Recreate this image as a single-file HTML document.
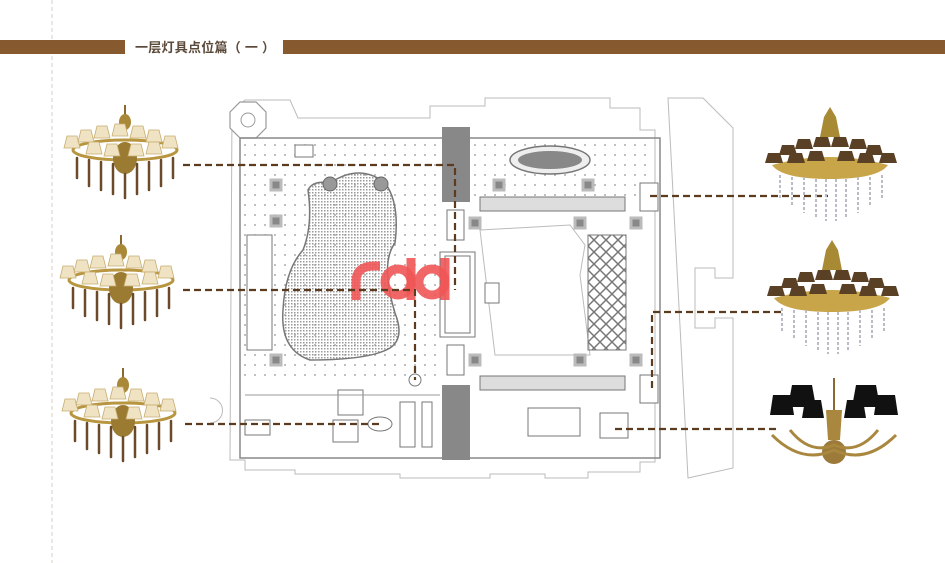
<!DOCTYPE html>
<html><head><meta charset="utf-8"><style>
html,body{margin:0;padding:0;background:#fff;}
body{width:945px;height:563px;overflow:hidden;position:relative;font-family:"Liberation Sans","Noto Sans CJK SC",sans-serif;}
</style></head><body>
<svg width="945" height="563" viewBox="0 0 945 563" xmlns="http://www.w3.org/2000/svg" style="position:absolute;left:0;top:0">
<defs>
<pattern id="dots" width="10" height="10" patternUnits="userSpaceOnUse"><circle cx="5" cy="5" r="0.9" fill="#777"/></pattern>
<pattern id="fine" width="3" height="3" patternUnits="userSpaceOnUse"><rect width="1.5" height="1.5" fill="#999"/></pattern>
<pattern id="lattice" width="12" height="12" patternUnits="userSpaceOnUse"><path d="M0 6L6 0L12 6L6 12Z" fill="none" stroke="#777" stroke-width="1.5"/></pattern>
<g id="chL">
<line x1="0" y1="-45" x2="0" y2="-25" stroke="#8a6a30" stroke-width="2"/>
<ellipse cx="0" cy="-28" rx="6" ry="8" fill="#a98838"/>
<ellipse cx="0" cy="0" rx="52" ry="10" fill="none" stroke="#b8953f" stroke-width="3"/>
<ellipse cx="0" cy="8" rx="12" ry="16" fill="#9b7a32"/>
<g fill="#efe3c4" stroke="#c7ad70" stroke-width="0.8">
<path d="M-58 -14h10l3 12h-16z"/><path d="M-44 -20h10l3 12h-16z"/><path d="M-28 -24h10l3 12h-16z"/><path d="M-10 -26h10l3 12h-16z"/><path d="M8 -24h10l3 12h-16z"/><path d="M24 -20h10l3 12h-16z"/><path d="M40 -14h10l3 12h-16z"/>
<path d="M-36 -8h10l3 12h-16z"/><path d="M-18 -6h10l3 12h-16z"/><path d="M6 -6h10l3 12h-16z"/><path d="M24 -8h10l3 12h-16z"/>
</g>
<g stroke="#6b4a2a" stroke-width="2.5" stroke-linecap="round">
<line x1="-48" y1="8" x2="-48" y2="28"/><line x1="-36" y1="10" x2="-36" y2="36"/><line x1="-24" y1="12" x2="-24" y2="40"/><line x1="-12" y1="14" x2="-12" y2="44"/><line x1="0" y1="24" x2="0" y2="48"/><line x1="12" y1="14" x2="12" y2="44"/><line x1="24" y1="12" x2="24" y2="40"/><line x1="36" y1="10" x2="36" y2="36"/><line x1="48" y1="8" x2="48" y2="28"/>
</g>
</g>
<g id="chR">
<path d="M-6 -48l6 -10l6 10l4 20h-20z" fill="#a88a35"/>
<path d="M-58 0q58 -16 116 0q-10 14 -58 14q-48 0 -58 -14z" fill="#c9a54a"/>
<g fill="#5a4024">
<path d="M-62 -12h12l3 10h-18z"/><path d="M-48 -20h12l3 10h-18z"/><path d="M-32 -26h12l3 10h-18z"/><path d="M-14 -28h12l3 10h-18z"/><path d="M4 -28h12l3 10h-18z"/><path d="M22 -26h12l3 10h-18z"/><path d="M38 -20h12l3 10h-18z"/><path d="M52 -12h12l3 10h-18z"/>
<path d="M-40 -12h12l3 10h-18z"/><path d="M-20 -14h12l3 10h-18z"/><path d="M10 -14h12l3 10h-18z"/><path d="M30 -12h12l3 10h-18z"/>
</g>
<g stroke="#b9bcc4" stroke-width="2" stroke-dasharray="3 2">
<line x1="-50" y1="10" x2="-50" y2="34"/><line x1="-38" y1="12" x2="-38" y2="42"/><line x1="-26" y1="12" x2="-26" y2="48"/><line x1="-14" y1="14" x2="-14" y2="52"/><line x1="-4" y1="14" x2="-4" y2="56"/><line x1="6" y1="14" x2="6" y2="56"/><line x1="16" y1="14" x2="16" y2="52"/><line x1="28" y1="12" x2="28" y2="48"/><line x1="40" y1="12" x2="40" y2="42"/><line x1="52" y1="10" x2="52" y2="34"/>
</g>
</g>
</defs>

<line x1="52" y1="0" x2="52" y2="563" stroke="#d9cfc0" stroke-width="1" stroke-dasharray="4 3"/>

<rect x="0" y="40" width="125" height="14" fill="#865a2e"/>
<rect x="283" y="40" width="662" height="14" fill="#865a2e"/>
<text x="135" y="52" font-size="13" font-weight="bold" fill="#5b4a3a" font-family="Liberation Sans,Noto Sans CJK SC,sans-serif" textLength="140" lengthAdjust="spacing">一层灯具点位篇（ 一 ）</text>

<g fill="none" stroke="#bbb" stroke-width="1">
<path d="M232 112L245 100H290L298 118H430V106H485V98H610V108H640V130H655V462H640V472H588V478H545V474H490V478H400V474H295V470H245V460H230Z"/>
<path d="M668 98h35l30 30v150h-18v-10h-20v60h20v-10h18v150l-45 10z"/>
<path d="M210 398a12 12 0 1 1 0 25"/>
</g>
<polygon points="230,112 240,102 256,102 266,112 266,128 256,138 240,138 230,128" fill="#fff" stroke="#999" stroke-width="1.2"/>
<circle cx="248" cy="120" r="7" fill="none" stroke="#999"/>
<rect x="240" y="138" width="420" height="320" fill="none" stroke="#888" stroke-width="1.5"/>
<rect x="240" y="138" width="200" height="240" fill="url(#dots)" opacity="0.8"/>
<rect x="470" y="138" width="180" height="60" fill="url(#dots)" opacity="0.8"/>
<path d="M330 183q30 -20 55 0q15 20 10 60q-15 20 0 70q10 25 -5 35q-20 12 -80 12q-30 -10 -27 -50q2 -40 20 -60q10 -25 5 -60q5 -10 22 -7z" fill="url(#fine)" stroke="#777" stroke-width="1.5"/>
<circle cx="330" cy="184" r="7" fill="#999" stroke="#666"/>
<circle cx="381" cy="184" r="7" fill="#999" stroke="#666"/>
<rect x="247" y="235" width="25" height="115" fill="#fff" stroke="#777"/>
<rect x="442" y="127" width="28" height="75" fill="#888"/>
<rect x="442" y="385" width="28" height="75" fill="#888"/>
<ellipse cx="550" cy="160" rx="40" ry="14" fill="#eee" stroke="#777" stroke-width="1.5"/>
<ellipse cx="550" cy="160" rx="32" ry="9" fill="#888"/>
<g fill="#ddd" stroke="#777">
<rect x="480" y="197" width="145" height="14"/>
<rect x="480" y="376" width="145" height="14"/>
</g>
<path d="M480 230l90 -5l15 20l-5 30l10 80h-95z" fill="#fff" stroke="#bbb"/>
<rect x="440" y="252" width="35" height="85" fill="#fff" stroke="#777"/>
<rect x="445" y="256" width="25" height="77" fill="#fff" stroke="#777"/>
<rect x="588" y="235" width="38" height="115" fill="url(#lattice)" stroke="#777"/>
<rect x="485" y="283" width="14" height="20" fill="#fff" stroke="#777"/>
<g fill="#888" stroke="#bbb" stroke-width="3">
<rect x="271" y="180" width="10" height="10"/><rect x="271" y="216" width="10" height="10"/><rect x="271" y="355" width="10" height="10"/>
<rect x="494" y="180" width="10" height="10"/><rect x="583" y="180" width="10" height="10"/><rect x="631" y="218" width="10" height="10"/>
<rect x="470" y="218" width="10" height="10"/><rect x="575" y="218" width="10" height="10"/><rect x="631" y="355" width="10" height="10"/>
<rect x="470" y="355" width="10" height="10"/><rect x="575" y="355" width="10" height="10"/>
</g>
<g fill="#fff" stroke="#777">
<rect x="447" y="210" width="17" height="30"/><rect x="447" y="345" width="17" height="30"/>
<rect x="640" y="183" width="18" height="28"/><rect x="640" y="375" width="18" height="28"/>
<rect x="338" y="390" width="25" height="25"/><rect x="333" y="420" width="25" height="22"/>
<rect x="400" y="402" width="15" height="45"/><rect x="422" y="402" width="10" height="45"/>
<rect x="528" y="408" width="52" height="28"/><rect x="600" y="413" width="28" height="25"/>
<rect x="245" y="420" width="25" height="15"/>
<rect x="295" y="145" width="18" height="12"/>
</g>
<ellipse cx="380" cy="424" rx="12" ry="7" fill="#fff" stroke="#777"/>
<circle cx="415" cy="380" r="6" fill="#fff" stroke="#777"/>
<line x1="245" y1="395" x2="440" y2="395" stroke="#999"/>

<g fill="none" stroke="#f05555" stroke-opacity="0.9" stroke-width="9">
<path d="M356 300V282q0 -16 18 -16h6"/>
<circle cx="398" cy="282" r="13"/>
<line x1="411" y1="258" x2="411" y2="300"/>
<circle cx="432" cy="282" r="13"/>
<line x1="445" y1="258" x2="445" y2="300"/>
</g>

<g fill="none" stroke="#5c3b1e" stroke-width="2.2" stroke-dasharray="7 4">
<path d="M183 165H455V290"/>
<path d="M183 290H415V380"/>
<path d="M185 424H380"/>
<path d="M650 196H828"/>
<path d="M652 388V312H782"/>
<path d="M615 429H778"/>
</g>

<use href="#chL" x="125" y="150"/>
<use href="#chL" x="121" y="280"/>
<use href="#chL" x="123" y="413"/>
<use href="#chR" x="830" y="165"/>
<use href="#chR" x="832" y="298"/>
<g>
<line x1="834" y1="378" x2="834" y2="410" stroke="#8a6a30" stroke-width="2"/>
<path d="M826 410h16l-2 30h-12z" fill="#a9873e"/>
<circle cx="834" cy="452" r="12" fill="#9c7a3a"/>
<path d="M772 435q30 30 62 15q32 15 62 -15" fill="none" stroke="#a9873e" stroke-width="3"/>
<path d="M790 430q20 25 44 15q24 10 44 -15" fill="none" stroke="#a9873e" stroke-width="3"/>
<g fill="#111">
<path d="M773 395h18l3 20h-24z"/><path d="M792 385h20l4 22h-28z"/><path d="M805 400h16l3 18h-22z"/>
<path d="M856 385h20l4 22h-28z"/><path d="M877 395h18l3 20h-24z"/><path d="M847 400h16l3 18h-22z"/>
</g>
</g>
</svg>
</body></html>
